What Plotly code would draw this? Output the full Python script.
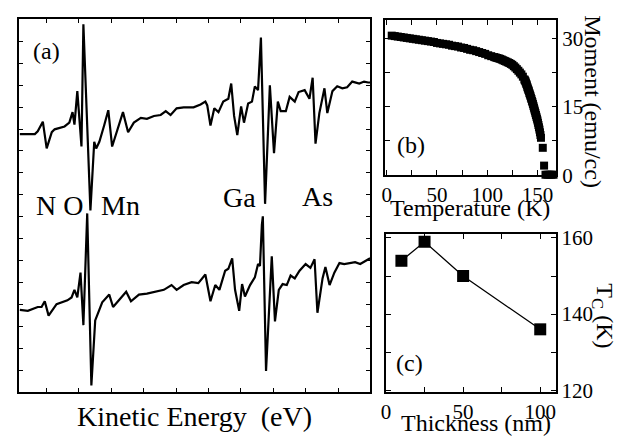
import plotly.graph_objects as go

# ---------------- data ----------------
# Panel (a): Auger spectra (derivative, arbitrary units); x = kinetic energy (eV)
top_e = [303, 350, 359, 375, 387, 403, 412, 443, 458, 468, 474, 483, 496, 502, 524,
         536, 542, 552, 567, 580, 592, 608, 626, 642, 660, 682, 701, 723, 744, 760,
         775, 794, 816, 847, 869, 884, 890, 900, 912, 925, 940, 956, 965, 974, 984,
         996, 1005, 1018, 1030, 1039, 1049, 1058, 1071, 1086, 1099, 1111, 1120, 1136,
         1148, 1164, 1176, 1195, 1210, 1220, 1229, 1241, 1257, 1266, 1282, 1297, 1313,
         1328, 1344, 1366, 1381, 1394, 1400]
top_i = [270, 270, 273, 283, 255, 272, 275, 278, 282, 293, 280, 315, 257, 385, 190,
         262, 255, 262, 279, 295, 257, 274, 293, 272, 282, 287, 286, 289, 290, 294,
         290, 297, 298, 298, 301, 304, 300, 279, 297, 293, 304, 307, 323, 289, 269,
         299, 282, 302, 304, 320, 316, 371, 197, 321, 250, 304, 294, 294,
         309, 304, 314, 316, 307, 329, 260, 292, 318, 292, 315, 320, 318,
         319, 325, 323, 325, 324, 324]

bot_e = [303, 328, 359, 371, 381, 393, 418, 452, 465, 474, 483, 493, 502, 514, 527,
         539, 561, 583, 595, 620, 636, 651, 676, 701, 732, 754, 778, 794, 816, 841,
         862, 884, 900, 915, 928, 946, 956, 968, 977, 990, 999, 1008, 1024, 1039, 1049,
         1055, 1061, 1064, 1074, 1092, 1102, 1114, 1126, 1139, 1151, 1164, 1179, 1198,
         1213, 1226, 1235, 1251, 1260, 1273, 1288, 1304, 1319, 1335, 1353, 1369, 1384, 1400]
bot_i = [86, 85, 89, 89, 95, 80, 92, 96, 99, 107, 99, 125, 70, 187, 7,
         75, 94, 102, 89, 99, 105, 95, 102, 103, 105, 107, 112, 107, 112, 115,
         114, 123, 95, 112, 107, 127, 129, 140, 107, 85, 113, 100, 112, 120, 134,
         132, 175, 184, 22, 142, 74, 107, 113, 112, 122, 119, 127, 134,
         130, 139, 83, 119, 131, 112, 125, 135, 134, 135, 136, 134, 137, 140]

element_labels = ["N O", "Mn", "Ga", "As"]

# Panel (b): magnetic moment vs temperature
temp_K = [5, 8, 11, 14, 17, 20, 23, 26, 29, 32, 35, 38, 41, 44, 47, 50, 53, 56, 59, 62,
          65, 68, 71, 74, 77, 80, 83, 86, 89, 92, 95, 98, 101, 104, 107,
          108.5, 110, 111.5, 113, 114.5, 116, 117.5, 119, 120.5, 122, 123.5, 125, 126.5,
          128, 129.5, 131, 132.5, 134, 135.5, 137,
          137.5, 138, 138.5, 139, 139.5, 140, 140.5, 141, 141.5, 142, 142.5, 143, 143.5,
          144, 144.5, 145, 145.5, 146, 146.5, 147, 147.5, 148, 148.5, 149, 149.5, 150,
          150.5, 151, 151.5, 152, 152.5, 153, 153.5,
          155.3, 156.6, 158, 160, 162, 164, 166]
moment = [30.6, 30.5, 30.4, 30.3, 30.2, 30.1, 30.0, 29.9, 29.8, 29.7, 29.6, 29.5, 29.4,
          29.3, 29.2, 29.0, 28.9, 28.8, 28.7, 28.6, 28.4, 28.3, 28.2, 28.0, 27.9, 27.7,
          27.5, 27.4, 27.2, 27.0, 26.8, 26.6, 26.3, 26.1, 25.9,
          25.8, 25.7, 25.6, 25.5, 25.35, 25.2, 25.05, 24.9, 24.75, 24.6, 24.4, 24.2, 23.9,
          23.6, 23.25, 22.9, 22.5, 22.1, 21.6, 21.0,
          20.8, 20.6, 20.3, 20.0, 19.7, 19.3, 19.0, 18.7, 18.4, 18.0, 17.7, 17.4, 17.0,
          16.7, 16.3, 16.0, 15.6, 15.2, 14.8, 14.4, 14.0, 13.6, 13.2, 12.8, 12.4, 12.0,
          11.5, 11.0, 10.5, 10.0, 9.4, 8.8, 8.2,
          6.0, 2.1, 0.1, 0.1, 0.1, 0.1, 0.1]

# Panel (c): Curie temperature vs thickness
thickness_nm = [10, 25, 50, 100]
tc_K = [154, 159, 150, 136]

FONT = "Liberation Serif, Times New Roman, serif"
W, H = 638, 448

def px(x):
    return x / W

def py(y):
    return 1 - y / H

fig = go.Figure()
fig.add_trace(go.Scatter(x=top_e, y=top_i, mode="lines", line=dict(color="black", width=2.2),
                         xaxis="x", yaxis="y", showlegend=False, hoverinfo="skip"))
fig.add_trace(go.Scatter(x=bot_e, y=bot_i, mode="lines", line=dict(color="black", width=2.2),
                         xaxis="x", yaxis="y", showlegend=False, hoverinfo="skip"))
fig.add_trace(go.Scatter(x=temp_K, y=moment, mode="markers",
                         marker=dict(symbol="square", size=8, color="black", line=dict(width=0)),
                         xaxis="x2", yaxis="y2", showlegend=False, cliponaxis=False))
fig.add_trace(go.Scatter(x=thickness_nm, y=tc_K, mode="lines+markers",
                         marker=dict(symbol="square", size=12, color="black", line=dict(width=0)),
                         line=dict(color="black", width=1.3),
                         xaxis="x3", yaxis="y3", showlegend=False, cliponaxis=False))

common = dict(showline=True, linecolor="black", linewidth=1.5, mirror="ticks", ticks="inside",
              tickcolor="black", tickwidth=1.2, showgrid=False, zeroline=False,
              tickfont=dict(family=FONT, size=21, color="black"))

fig.update_layout(
    width=W, height=H, margin=dict(l=0, r=0, t=0, b=0), autosize=False,
    paper_bgcolor="white", plot_bgcolor="white",
    xaxis=dict(domain=[px(14), px(368)], range=[300, 1400], tick0=386, dtick=101.6,
               ticklen=4, showticklabels=False, anchor="y", **common),
    yaxis=dict(domain=[py(402), py(12)], range=[0, 390], tick0=0, dtick=390 / 17,
               ticklen=4, showticklabels=False, anchor="x", **common),
    xaxis2=dict(domain=[px(383.3), px(555.7)], range=[-1.4, 168.8],
                tickvals=[0, 25, 50, 75, 100, 125, 150],
                ticktext=["0", "", "50", "", "100", "", "150"], ticklen=5, anchor="y2", **common),
    yaxis2=dict(domain=[py(175), py(12.7)], range=[0, 34], side="right",
                tickvals=[0, 7.5, 15, 22.5, 30], ticktext=["0", "", "15", "", "30"],
                ticklen=5, anchor="x2", **common),
    xaxis3=dict(domain=[px(384), px(555)], range=[0, 110],
                tickvals=[0, 25, 50, 75, 100], ticktext=["0", "", "50", "", "100"],
                ticklen=5, anchor="y3", **common),
    yaxis3=dict(domain=[py(401.7), py(236.7)], range=[119.6, 161], side="right",
                tickvals=[120, 130, 140, 150, 160], ticktext=["120", "", "140", "", "160"],
                ticklen=5, anchor="x3", **common),
)

def ann(text, x, y, size, angle=0):
    fig.add_annotation(text=text, x=px(x), y=py(y), xref="paper", yref="paper",
                       showarrow=False, textangle=angle, xanchor="center", yanchor="middle",
                       font=dict(family=FONT, size=size, color="black"))

ann("(a)", 42, 45, 24)
ann(element_labels[0], 55, 207, 28)
ann(element_labels[1], 116, 207, 28)
ann(element_labels[2], 236, 198, 28)
ann(element_labels[3], 315, 197, 28)
ann("Kinetic Energy  (eV)", 191, 428, 28)
ann("(b)", 409, 143, 24)
ann("Temperature (K)", 469, 209, 24)
ann("Moment (emu/cc)", 593, 98, 24, angle=90)
ann("(c)", 408, 372, 24)
ann("Thickness (nm)", 475, 434, 24)
ann("T<sub>C</sub> (K)", 603, 322, 24, angle=90)

fig.write_html("out.html")
